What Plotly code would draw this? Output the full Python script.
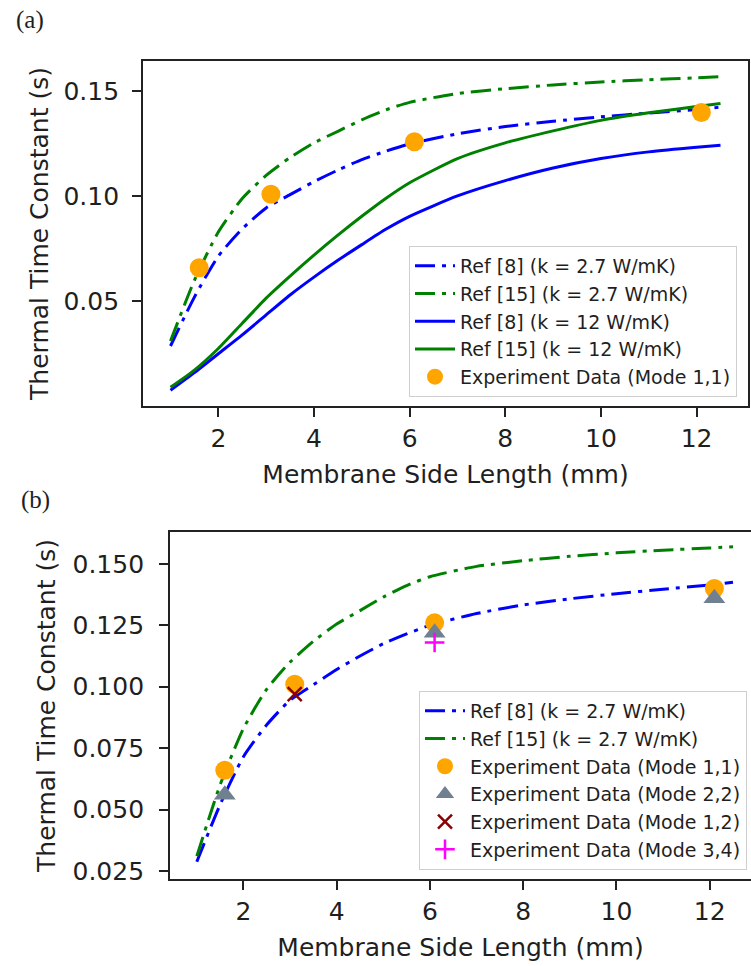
import plotly.graph_objects as go

# ---------------- data ----------------
side_length = [1.0, 1.5, 2.0, 2.5, 3.0, 3.5, 4.0, 4.5, 5.0, 5.5, 6.0, 7.0, 8.0, 9.0, 10.0, 11.0, 12.0, 12.5]

ref8_k27 = [0.0287, 0.052, 0.0715, 0.0845, 0.0945, 0.1008, 0.107, 0.1125, 0.1175, 0.1215, 0.1250,
            0.1298, 0.1333, 0.1358, 0.1379, 0.1397, 0.1414, 0.1425]
ref15_k27 = [0.031, 0.060, 0.083, 0.099, 0.110, 0.1185, 0.1255, 0.131, 0.1365, 0.1412, 0.1448,
             0.1490, 0.1513, 0.1531, 0.1545, 0.1556, 0.1565, 0.157]
ref8_k12 = [0.0076, 0.016, 0.025, 0.034, 0.0435, 0.053, 0.0615, 0.0695, 0.077, 0.0843, 0.0905,
            0.1002, 0.1075, 0.1135, 0.118, 0.1212, 0.1234, 0.1243]
ref15_k12 = [0.009, 0.0172, 0.0275, 0.0395, 0.0515, 0.062, 0.072, 0.0815, 0.0905, 0.099, 0.1065,
             0.118, 0.1255, 0.1312, 0.1362, 0.1398, 0.1428, 0.1443]

exp_x = [1.6, 3.1, 6.1, 12.1]
mode11 = [0.066, 0.101, 0.126, 0.140]
mode22_x = [1.6, 6.1, 12.1]
mode22 = [0.056, 0.122, 0.136]
mode12_x = [3.1]
mode12 = [0.097]
mode34_x = [6.1]
mode34 = [0.118]

x_ticks = [2, 4, 6, 8, 10, 12]
y_ticks_a = [0.05, 0.10, 0.15]
y_ticks_b = [0.025, 0.050, 0.075, 0.100, 0.125, 0.150]

# ---------------- styling ----------------
W, H = 751, 966
FONT = "DejaVu Sans"
TXT = "#1f1f1f"
BLUE = "blue"
GREEN = "green"
DASHDOT = "20px,7px,4px,7px"

fig = go.Figure()

def line(x, y, name, color, dash, xa, ya, leg):
    fig.add_trace(go.Scatter(x=x, y=y, mode="lines", name=name, xaxis=xa, yaxis=ya,
                             line=dict(color=color, width=3, dash=dash, shape="spline", smoothing=0.6),
                             legend=leg))

# panel (a)
line(side_length, ref8_k27, "Ref [8] (k = 2.7 W/mK)", BLUE, DASHDOT, "x", "y", "legend")
line(side_length, ref15_k27, "Ref [15] (k = 2.7 W/mK)", GREEN, DASHDOT, "x", "y", "legend")
line(side_length, ref8_k12, "Ref [8] (k = 12 W/mK)", BLUE, "solid", "x", "y", "legend")
line(side_length, ref15_k12, "Ref [15] (k = 12 W/mK)", GREEN, "solid", "x", "y", "legend")
fig.add_trace(go.Scatter(x=exp_x, y=mode11, mode="markers", name="Experiment Data (Mode 1,1)",
                         xaxis="x", yaxis="y", legend="legend",
                         marker=dict(color="orange", size=19, symbol="circle")))

# panel (b)
line(side_length, ref8_k27, "Ref [8] (k = 2.7 W/mK)", BLUE, DASHDOT, "x2", "y2", "legend2")
line(side_length, ref15_k27, "Ref [15] (k = 2.7 W/mK)", GREEN, DASHDOT, "x2", "y2", "legend2")
fig.add_trace(go.Scatter(x=exp_x, y=mode11, mode="markers", name="Experiment Data (Mode 1,1)",
                         xaxis="x2", yaxis="y2", legend="legend2",
                         marker=dict(color="orange", size=19, symbol="circle")))
fig.add_trace(go.Scatter(x=mode22_x, y=mode22, mode="markers", name="Experiment Data (Mode 2,2)",
                         xaxis="x2", yaxis="y2", legend="legend2",
                         marker=dict(color="slategray", size=19, symbol="triangle-up")))
fig.add_trace(go.Scatter(x=mode12_x, y=mode12, mode="markers", name="Experiment Data (Mode 1,2)",
                         xaxis="x2", yaxis="y2", legend="legend2",
                         marker=dict(color="darkred", size=14, symbol="x-thin",
                                     line=dict(color="darkred", width=2.5))))
fig.add_trace(go.Scatter(x=mode34_x, y=mode34, mode="markers", name="Experiment Data (Mode 3,4)",
                         xaxis="x2", yaxis="y2", legend="legend2",
                         marker=dict(color="magenta", size=14, symbol="cross-thin",
                                     line=dict(color="magenta", width=2.5))))

axis_common = dict(showgrid=False, zeroline=False, showline=True, linecolor="#222", linewidth=1.8,
                   ticks="outside", ticklen=9, tickwidth=1.6, tickcolor="#222",
                   tickfont=dict(family=FONT, size=25, color=TXT), automargin=False)

legend_common = dict(bgcolor="rgba(255,255,255,0.9)", bordercolor="#cfcfcf", borderwidth=1,
                     font=dict(family=FONT, size=19, color=TXT), xanchor="right", yanchor="bottom",
                     itemwidth=40, tracegroupgap=0)

fig.update_layout(
    width=W, height=H, margin=dict(l=0, r=0, t=0, b=0),
    paper_bgcolor="white", plot_bgcolor="white", showlegend=True,
    xaxis=dict(axis_common, domain=[143 / W, 748 / W], range=[0.425, 13.075], anchor="y",
               tickvals=x_ticks, mirror=True,
               title=dict(text="Membrane Side Length (mm)", font=dict(family=FONT, size=25, color=TXT), standoff=14)),
    yaxis=dict(axis_common, domain=[1 - 406 / H, 1 - 61 / H], range=[0.0001, 0.1645], anchor="x",
               tickvals=y_ticks_a, tickformat=".2f", mirror=True, ticklabelstandoff=8,
               title=dict(text="Thermal Time Constant (s)", font=dict(family=FONT, size=25, color=TXT), standoff=8)),
    xaxis2=dict(axis_common, domain=[170 / W, 1.0], range=[0.425, 12.886], anchor="y2",
                tickvals=x_ticks, mirror=True,
                title=dict(text="Membrane Side Length (mm)", font=dict(family=FONT, size=25, color=TXT), standoff=14)),
    yaxis2=dict(axis_common, domain=[1 - 879 / H, 1 - 532 / H], range=[0.0217, 0.163], anchor="x2",
                tickvals=y_ticks_b, tickformat=".3f", mirror=False, ticklabelstandoff=10,
                title=dict(text="Thermal Time Constant (s)", font=dict(family=FONT, size=25, color=TXT), standoff=10)),
    legend=dict(legend_common, x=737 / W, y=1 - 397 / H),
    legend2=dict(legend_common, x=747 / W, y=1 - 870 / H),
    annotations=[
        dict(text="(a)", x=30 / W, y=1 - 20 / H, xref="paper", yref="paper", showarrow=False,
             xanchor="center", yanchor="middle", font=dict(family="Liberation Serif", size=25, color=TXT)),
        dict(text="(b)", x=35 / W, y=1 - 500 / H, xref="paper", yref="paper", showarrow=False,
             xanchor="center", yanchor="middle", font=dict(family="Liberation Serif", size=25, color=TXT)),
    ],
)

fig.write_html("out.html", config={"displayModeBar": False},
               post_script="document.body.style.margin='0px';")
